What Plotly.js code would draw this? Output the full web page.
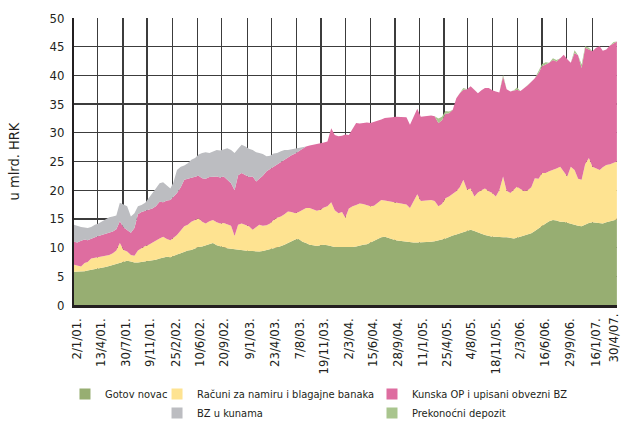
<!DOCTYPE html>
<html>
<head>
<meta charset="utf-8">
<script src="https://cdn.plot.ly/plotly-3.0.1.min.js"></script>
<style>html,body{margin:0;padding:0;background:#fff;}#chart{width:622px;height:429px;}</style>
</head>
<body>
<div id="chart"></div>
<script>
// ---- DATA (billion HRK), twice a month: 1st and 16th, Jan 2001 .. Apr 2007, plus 30/4/07 ----
const dates = [];
for (let y = 2001; y <= 2007; y++) {
  for (let m = 1; m <= 12; m++) {
    if (y === 2007 && m > 4) break;
    const mm = String(m).padStart(2, '0');
    dates.push(y + '-' + mm + '-01');
    dates.push(y + '-' + mm + '-16');
  }
}
dates[0] = '2001-01-02';
dates.push('2007-04-30');

const gotovNovac = [
  5.8,5.8, 5.9,5.9, 6.0,6.1, 6.3,6.4, 6.5,6.6, 6.8,7.0, 7.2,7.4, 7.5,7.7, 7.6,7.4, 7.4,7.5, 7.5,7.6, 7.7,7.9,
  8.1,8.3, 8.4,8.3, 8.6,8.8, 9.0,9.3, 9.5,9.6, 9.9,10.1, 10.2,10.4, 10.7,10.8, 10.4,10.2, 10.0,9.9, 9.8,9.7, 9.6,9.5,
  9.5,9.4, 9.4,9.3, 9.3,9.4, 9.6,9.7, 9.9,10.0, 10.2,10.5, 10.8,11.1, 11.4,11.5, 11.0,10.8, 10.5,10.4, 10.3,10.4, 10.5,10.4,
  10.2,10.1, 10.1,10.1, 10.0,10.1, 10.1,10.2, 10.4,10.5, 10.6,10.9, 11.2,11.5, 11.8,11.9, 11.7,11.4, 11.3,11.2, 11.1,11.0, 11.0,10.9,
  10.9,10.9, 10.9,11.0, 11.0,11.1, 11.2,11.4, 11.6,11.9, 12.1,12.3, 12.5,12.8, 13.0,13.1, 12.9,12.6, 12.4,12.2, 12.0,11.9, 11.9,11.8,
  11.8,11.8, 11.7,11.6, 11.7,11.9, 12.1,12.3, 12.5,12.9, 13.4,13.8, 14.2,14.6, 14.8,14.7, 14.5,14.5, 14.3,14.2, 14.0,13.8, 13.7,14.0,
  14.3,14.4, 14.3,14.2, 14.2,14.4, 14.6,14.8, 14.9
];
const racuniBanaka = [
  1.2,1.0, 0.8,1.4, 1.5,2.0, 1.9,2.0, 2.0,2.0, 1.9,2.0, 2.3,3.4, 2.1,1.6, 1.1,1.2, 2.1,2.4, 2.8,2.9, 3.2,3.4,
  3.5,3.6, 3.1,3.0, 3.2,3.4, 4.0,4.4, 4.5,4.9, 4.9,5.0, 4.3,3.8, 3.9,4.0, 4.0,4.0, 4.3,4.1, 4.0,2.3, 4.4,4.7,
  4.5,4.3, 3.7,4.3, 4.7,4.4, 4.3,4.5, 4.9,5.2, 5.2,5.3, 5.5,5.1, 4.6,4.7, 5.6,6.1, 6.4,6.3, 6.1,6.2, 6.5,6.8,
  7.7,6.4, 5.9,6.1, 5.2,6.7, 7.1,7.2, 7.3,7.1, 6.8,6.3, 6.1,6.3, 6.5,6.3, 6.4,6.6, 6.6,6.5, 6.6,6.5, 5.9,7.1,
  8.4,7.2, 7.3,7.3, 7.3,7.0, 6.0,6.2, 7.0,7.0, 7.3,7.5, 8.0,9.0, 7.1,7.2, 6.0,7.0, 7.6,8.1, 7.8,7.6, 7.0,8.2,
  10.6,8.1, 7.8,8.5, 8.9,8.3, 7.7,7.7, 8.0,9.2, 8.6,9.2, 8.8,8.7, 8.7,9.1, 9.6,8.7, 8.1,9.9, 9.5,8.2, 8.1,10.5,
  11.3,9.7, 9.5,9.3, 9.8,10.0, 9.9,9.9, 10.1
];
const kunskaOP = [
  4.0,4.1, 4.5,4.1, 3.8,3.5, 3.6,3.6, 3.7,3.8, 3.9,3.8, 3.7,3.8, 3.9,3.8, 3.9,4.8, 6.3,6.3, 6.1,6.1, 5.9,5.9,
  6.4,6.0, 6.7,7.0, 7.1,7.3, 7.5,8.1, 8.0,7.7, 7.6,7.4, 7.6,7.8, 7.7,7.6, 8.0,8.0, 8.1,7.8, 7.4,8.0, 8.6,8.8,
  8.6,8.6, 9.3,7.9, 8.0,8.7, 9.4,9.5, 9.4,9.4, 9.6,9.5, 9.5,9.9, 10.4,10.6, 10.7,10.7, 10.9,11.2, 11.6,11.6, 11.3,11.3,
  12.9,13.1, 13.4,13.3, 14.5,12.8, 13.6,14.3, 13.9,14.1, 14.4,14.5, 14.6,14.2, 14.0,14.4, 14.5,14.7, 14.9,15.1, 15.1,15.2, 14.5,14.8,
  14.9,14.7, 14.7,14.7, 14.7,14.8, 14.5,14.6, 14.7,14.5, 14.6,16.2, 16.4,15.7, 17.5,17.8, 18.6,17.3, 17.4,17.5, 18.0,17.9, 18.3,17.0,
  17.4,17.7, 17.7,17.3, 16.9,17.1, 18.0,18.3, 18.4,17.4, 18.4,18.6, 18.9,18.9, 19.2,18.6, 18.9,20.4, 20.4,18.1, 20.4,21.5, 19.5,20.3,
  18.9,20.1, 21.0,21.6, 20.3,20.1, 20.7,20.9, 20.9
];
const bzKune = [
  3.0,2.9, 2.4,2.1, 2.1,2.0, 2.2,2.2, 2.4,2.6, 2.7,2.6, 2.4,3.2, 4.0,4.1, 2.8,2.6, 1.4,1.2, 1.4,2.1, 2.7,3.1,
  3.2,3.5, 2.6,2.0, 2.5,4.0, 3.6,2.5, 2.7,3.1, 3.2,3.7, 4.4,4.6, 4.2,4.4, 4.6,4.7, 4.7,5.5, 5.8,6.5, 4.6,4.9,
  5.0,4.9, 4.6,5.1, 4.5,3.8, 2.6,2.3, 2.2,1.9, 1.8,1.7, 1.2,1.0, 0.9,0.6, 0.2,0, 0,0, 0,0, 0,0,
  0,0, 0,0, 0,0, 0,0, 0,0, 0,0, 0,0, 0,0, 0,0, 0,0, 0,0, 0,0,
  0,0, 0,0, 0,0, 0,0, 0,0, 0,0, 0,0, 0,0, 0,0, 0,0, 0,0, 0,0,
  0,0, 0,0, 0,0, 0,0, 0,0, 0,0, 0,0, 0,0, 0,0, 0,0, 0,0, 0,0,
  0,0, 0,0, 0,0, 0,0, 0
];
const prekonocniDepozit = [
  0,0, 0,0, 0,0, 0,0, 0,0, 0,0, 0,0, 0,0, 0,0, 0,0, 0,0, 0,0,
  0,0, 0,0, 0,0, 0,0, 0,0, 0,0, 0,0, 0,0, 0,0, 0,0, 0,0, 0,0,
  0,0, 0,0, 0,0, 0,0, 0,0, 0,0, 0,0, 0,0, 0,0, 0,0, 0,0, 0,0,
  0,0, 0,0, 0,0, 0,0, 0,0, 0,0, 0,0, 0,0, 0,0, 0,0, 0,0, 0,0,
  0,0, 0,0, 0,0, 0.8,0.6, 0.5,0.3, 0,0, 0,0.3, 0,0, 0,0, 0,0, 0,0, 0,0,
  0.3,0, 0,0, 0.4,0, 0,0, 0,0, 0.5,0.4, 0.4,0, 0.3,0.3, 0,0, 0,0, 0.5,0, 0.6,0.3,
  0.3,0, 0,0, 0,0, 0,0.2, 0
];

const seriesNames = ['Gotov novac', 'Računi za namiru i blagajne banaka', 'Kunska OP i upisani obvezni BZ', 'BZ u kunama', 'Prekonoćni depozit'];
const seriesValues = [gotovNovac, racuniBanaka, kunskaOP, bzKune, prekonocniDepozit];
const seriesColors = ['#97AE72', '#FEE391', '#DE6DA0', '#BCBDC1', '#A9C58E'];
const legendOf = ['legend', 'legend2', 'legend3', 'legend2', 'legend3'];

const tickDates = ['2001-01-02','2001-04-13','2001-07-30','2001-11-09','2002-02-25','2002-06-10','2002-09-20','2003-01-09','2003-04-23','2003-08-07','2003-11-19','2004-03-02','2004-06-15','2004-09-28','2005-01-11','2005-04-25','2005-08-04','2005-11-18','2006-03-02','2006-06-16','2006-09-29','2007-01-16','2007-04-30'];
const tickLabels = ['2/1/01.','13/4/01.','30/7/01.','9/11/01.','25/2/02.','10/6/02.','20/9/02.','9/1/03.','23/4/03.','7/8/03.','19/11/03.','2/3/04.','15/6/04.','28/9/04.','11/1/05.','25/4/05.','4/8/05.','18/11/05.','2/3/06.','16/6/06.','29/9/06.','16/1/07.','30/4/07.'];

// ---- CHART ----
const FONT = '"Liberation Sans Narrow", "DejaVu Sans Condensed", "Arial Narrow", "Liberation Sans", sans-serif';
const tickFont = {family: FONT, size: 13, color: '#231f20'};
const traces = [];
seriesValues.forEach((vals, i) => {
  traces.push({
    type: 'scatter', x: dates, y: vals, name: seriesNames[i],
    mode: 'lines', stackgroup: 'one', line: {width: 0, color: seriesColors[i]},
    fillcolor: seriesColors[i], showlegend: false, hoverinfo: 'skip'
  });
});
seriesNames.forEach((n, i) => {
  traces.push({
    type: 'scatter', x: [null], y: [null], name: n, mode: 'markers',
    marker: {symbol: 'square', size: 11, color: seriesColors[i]},
    legend: legendOf[i], showlegend: true
  });
});

// the last date label sits at the right edge: draw it as an annotation nudged inside the page
const lastIdx = tickLabels.length - 1;
const axisText = tickLabels.map((t, i) => (i === lastIdx ? '' : t));

const legendBase = {orientation: 'v', xanchor: 'left', yanchor: 'top', bgcolor: 'rgba(0,0,0,0)',
  font: {family: FONT, size: 11, color: '#231f20'}, tracegroupgap: 0, itemclick: false};

const layout = {
  width: 622, height: 429,
  margin: {l: 74, r: 5, t: 18, b: 124, autoexpand: false},
  paper_bgcolor: '#ffffff', plot_bgcolor: '#ffffff',
  font: {family: FONT, size: 13, color: '#231f20'},
  showlegend: true,
  xaxis: {
    type: 'date', range: ['2001-01-02', '2007-04-30 12:00'],
    tickmode: 'array', tickvals: tickDates, ticktext: axisText, tickangle: -90,
    tickfont: tickFont,
    showgrid: true, gridcolor: '#3c3c3c', gridwidth: 1.3,
    showline: true, linecolor: '#231f20', linewidth: 3,
    ticks: '', ticklabelstandoff: 5, ticklabelshift: 3, ticklabeloverflow: 'allow',
    zeroline: false, fixedrange: true, automargin: false
  },
  yaxis: {
    range: [0, 50], tick0: 0, dtick: 5,
    tickfont: tickFont,
    showgrid: true, gridcolor: '#3c3c3c', gridwidth: 1.3,
    showline: true, linecolor: '#231f20', linewidth: 2,
    ticks: '', ticklabelstandoff: 5, zeroline: false, fixedrange: true, automargin: false,
    title: {text: 'u mlrd. HRK', font: {family: FONT, size: 14.5, color: '#231f20'}, standoff: 26}
  },
  annotations: [{
    x: tickDates[lastIdx], xref: 'x', y: 0, yref: 'paper',
    xanchor: 'center', yanchor: 'top', xshift: -3, yshift: -6,
    textangle: -90, text: tickLabels[lastIdx], showarrow: false, font: tickFont
  }],
  legend: Object.assign({}, legendBase, {x: -0.0166, y: -0.26}),
  legend2: Object.assign({}, legendBase, {x: 0.1529, y: -0.26}),
  legend3: Object.assign({}, legendBase, {x: 0.5488, y: -0.26})
};

Plotly.newPlot('chart', traces, layout, {displayModeBar: false, staticPlot: true});
</script>
</body>
</html>
